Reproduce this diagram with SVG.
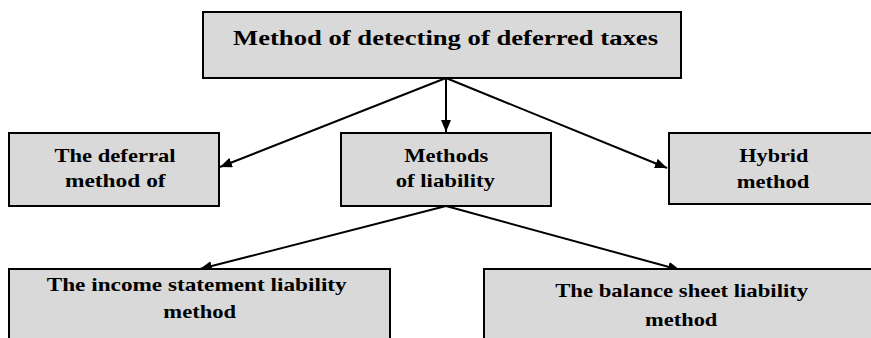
<svg xmlns="http://www.w3.org/2000/svg" width="871" height="338" viewBox="0 0 871 338">
<style>
.box{fill:#d9d9d9;stroke:#000;stroke-width:2}
text{font-family:'Liberation Serif','Times New Roman',Times,serif;font-weight:700;font-size:19px;fill:#000;text-anchor:middle}
.c{stroke:#000;stroke-width:2;fill:none;marker-end:url(#ah)}
</style>
<defs>
<marker id="ah" markerWidth="12" markerHeight="10" refX="12" refY="5" orient="auto" markerUnits="userSpaceOnUse">
<path d="M0,0 L12,5 L0,10 Z" fill="#000"/>
</marker>
</defs>
<rect width="871" height="338" fill="#fff"/>
<g id="connectors">
<line class="c" x1="446" y1="78" x2="446" y2="132"/>
<line class="c" x1="446" y1="78" x2="220" y2="167"/>
<line class="c" x1="446" y1="78" x2="667" y2="168"/>
<line class="c" x1="446" y1="206" x2="200" y2="269"/>
<line class="c" x1="446" y1="206" x2="680" y2="270"/>
</g>
<g id="root">
<rect class="box" x="203" y="12" width="478" height="66"/>
<text x="445.5" y="45" style="font-size:20px" textLength="425" lengthAdjust="spacingAndGlyphs">Method of detecting of deferred taxes</text>
</g>
<g id="deferral">
<rect class="box" x="9" y="133" width="210" height="73"/>
<text x="115" y="162" textLength="121" lengthAdjust="spacingAndGlyphs">The deferral</text>
<text x="115.3" y="187" textLength="100.7" lengthAdjust="spacingAndGlyphs">method of</text>
</g>
<g id="liability">
<rect class="box" x="341" y="133" width="210" height="73"/>
<text x="446.3" y="162" textLength="84" lengthAdjust="spacingAndGlyphs">Methods</text>
<text x="445.3" y="187" textLength="99.3" lengthAdjust="spacingAndGlyphs">of liability</text>
</g>
<g id="hybrid">
<rect class="box" x="669" y="133" width="220" height="71"/>
<text x="773.8" y="162" textLength="69" lengthAdjust="spacingAndGlyphs">Hybrid</text>
<text x="773" y="188" textLength="72.7" lengthAdjust="spacingAndGlyphs">method</text>
</g>
<g id="income">
<rect class="box" x="9" y="269" width="381" height="90"/>
<text x="196.7" y="291" textLength="300" lengthAdjust="spacingAndGlyphs">The income statement liability</text>
<text x="199.7" y="318" textLength="72.7" lengthAdjust="spacingAndGlyphs">method</text>
</g>
<g id="balance">
<rect class="box" x="484" y="269" width="410" height="90"/>
<text x="681.7" y="297" textLength="253" lengthAdjust="spacingAndGlyphs">The balance sheet liability</text>
<text x="681.2" y="326" textLength="72.3" lengthAdjust="spacingAndGlyphs">method</text>
</g>
</svg>
